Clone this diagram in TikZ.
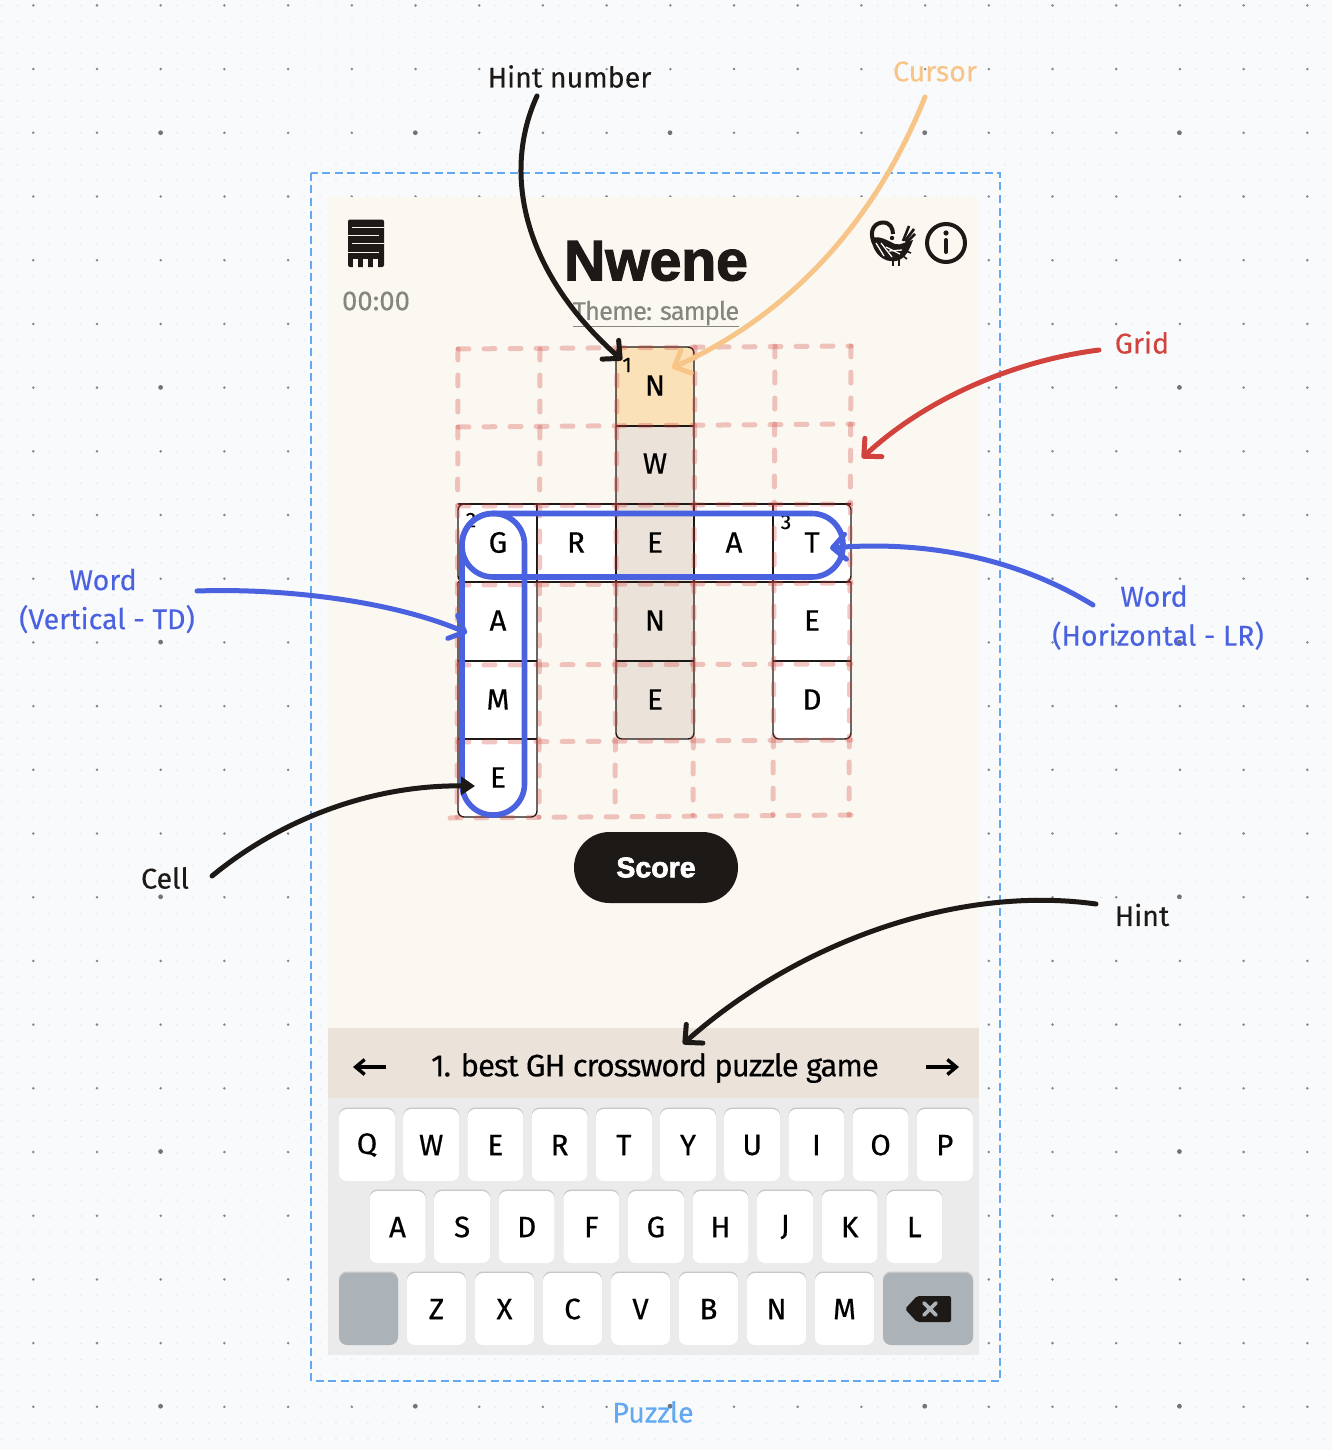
\documentclass[tikz,border=0pt]{standalone}
\usepackage{fontspec}
\usepackage{tikz}
\usetikzlibrary{arrows.meta}
\usetikzlibrary{shadows}
\setmainfont[FakeBold=0.15]{Fira Sans}
\newfontfamily\heavyfont[FakeBold=2.2]{Liberation Sans Bold}
\newfontfamily\midfont[FakeBold=0.5]{Fira Sans}
\newfontfamily\tightfont[FakeBold=0.35, LetterSpace=-3.2]{Fira Sans}
\newfontfamily\themefont[FakeBold=0.2, LetterSpace=-3.5]{Fira Sans}
\definecolor{pagebg}{HTML}{F9FAFC}
\definecolor{dotminor}{HTML}{E9EBEF}
\definecolor{dotmajor}{HTML}{85888E}
\definecolor{panelbg}{HTML}{FBF8F2}
\definecolor{framecol}{HTML}{62A8F2}
\definecolor{inkcol}{HTML}{1C1917}
\definecolor{greycol}{HTML}{86857F}
\definecolor{gridcol}{HTML}{D2433D}
\definecolor{cursorcol}{HTML}{F8C588}
\definecolor{wordcol}{HTML}{4A62E0}
\definecolor{cursorcell}{HTML}{FBE1B8}
\definecolor{tancol}{HTML}{EBE3DA}
\definecolor{keybg}{HTML}{EBEBEB}
\definecolor{keydark}{HTML}{ABB2B8}
\tikzset{x = 1pt, y = -1pt}
\tikzset{caption/.style = {font = \fontsize{28.6}{39}\selectfont, align = center, inner sep = 0}}
\tikzset{letter/.style = {font = \midfont\fontsize{29.5}{30}\selectfont, text = black, inner sep = 0}}
\tikzset{tiny/.style = {font = \fontsize{21}{22}\selectfont, text = black, inner sep = 0}}
\tikzset{cellline/.style = {draw = inkcol, line width = 1.4}}
\tikzset{gridline/.style = {draw = gridcol, opacity = 0.3, line width = 5, line cap = round, dash pattern = on 11 off 15}}
\tikzset{wordline/.style = {draw = wordcol, line width = 5.6, rounded corners = 31}}
\tikzset{barb/.style = {line width = 5, line cap = round, -{Straight Barb[length = 13, width = 25, round]}}}
\tikzset{keybox/.style = {fill = white, rounded corners = 8, minimum width = 56, minimum height = 72, inner sep = 0, font = \midfont\fontsize{29.5}{30}\selectfont, text = black, drop shadow = {shadow xshift = 0, shadow yshift = -1.5, fill = black!22, opacity = 1}}}
\tikzset{wide/.style = {keybox, minimum width = 59}}
\begin{document}
\begin{tikzpicture}
    \useasboundingbox (0, 0) rectangle (1332, 1450);
    \fill [pagebg] (0, 0) rectangle (1332, 1450);

    \foreach \i in {0, ..., 83} {
        \draw [dotminor, line width = 2, line cap = round, dash pattern = on 0 off 15.93] ({1.5 + 15.93 * \i}, 5.4) -- ({1.5 + 15.93 * \i}, 1450);
    }
    \foreach \i in {0, ..., 20} {
        \foreach \j in {0, ..., 22} {
            \fill [dotmajor] ({33.3 + 63.7 * \i}, {5.4 + 63.7 * \j}) circle (1.4);
        }
    }
    \foreach \i in {0, ..., 4} {
        \foreach \j in {0, ..., 5} {
            \fill [dotmajor!85!black] ({160.6 + 254.7 * \i}, {132.7 + 254.7 * \j}) circle (2.4);
        }
    }

    \fill [panelbg] (328, 197) rectangle (979, 1030);
    \draw [framecol, line width = 2.8, dash pattern = on 8 off 4.5] (311, 173) rectangle (1000, 1381);

    \fill [inkcol, rounded corners = 2] (348, 219.5) rectangle (384, 267);
    \fill [panelbg] (352, 226.5) rectangle (384, 227.8);
    \fill [panelbg] (348, 234.5) rectangle (379, 235.8);
    \fill [panelbg] (352, 243) rectangle (384, 244.3);
    \fill [panelbg] (348, 251.5) rectangle (379, 252.8);
    \fill [panelbg] (353, 258.5) rectangle (358, 268);
    \fill [panelbg] (363, 258.5) rectangle (368, 268);
    \fill [panelbg] (373, 258.5) rectangle (378, 268);

    \node [font = \fontsize{27.5}{30}\selectfont, text = greycol, inner sep = 0] (timer) at (376, 301) {00:00};
    \node [font = \heavyfont\fontsize{57}{60}\selectfont, text = inkcol, inner sep = 0] (title) at (656, 261) {Nwene};
    \node [font = \themefont\fontsize{25.5}{28}\selectfont, text = greycol, inner sep = 0] (theme) at (656, 314) {\underline{Theme: sample}};

    \draw [inkcol, line width = 4] (874, 243) .. controls (868, 229) and (876, 222.5) .. (883, 222.5) .. controls (890, 222.5) and (893, 228) .. (893, 234);
    \fill [inkcol] (892, 238) circle (2.2);
    \fill [inkcol] (871, 238) .. controls (873, 254) and (884, 263) .. (896, 261) .. controls (906, 259) and (910, 248) .. (913, 240) .. controls (906, 241) and (901, 246) .. (895, 244) .. controls (888, 241) and (880, 235) .. (871, 238);
    \draw [panelbg, line width = 1.3] (876, 243) -- (884, 256);
    \draw [panelbg, line width = 1.3] (881, 243) -- (892, 257);
    \draw [panelbg, line width = 1.3] (886, 247) -- (900, 254);
    \draw [panelbg, line width = 1.3] (889, 251) -- (902, 250);
    \draw [inkcol, line width = 2.6] (903, 241) -- (909, 226);
    \draw [inkcol, line width = 2.6] (905, 241) -- (914, 229);
    \draw [inkcol, line width = 2.6] (906, 243) -- (915, 234);
    \draw [inkcol, line width = 1.6] (906, 251) -- (911, 253);
    \draw [inkcol, line width = 1.6] (903, 256) -- (907, 259);
    \draw [inkcol, line width = 2.2] (893, 258) -- (893, 266);
    \draw [inkcol, line width = 2.2] (899, 258) -- (899, 266);

    \draw [inkcol, line width = 4] (946, 243) circle (19);
    \fill [inkcol] (946, 233) circle (2.6);
    \draw [inkcol, line width = 4, line cap = round] (946, 240) -- (946, 252);

    \draw [cellline, fill = white, rounded corners = 6] (458, 582) -- (458, 504) -- (851, 504) -- (851, 582) -- cycle;
    \draw [cellline, fill = white, rounded corners = 6] (458, 582) -- (458, 817) -- (537, 817) -- (537, 582);
    \draw [cellline, fill = white, rounded corners = 6] (773, 582) -- (773, 739) -- (851, 739) -- (851, 582);
    \draw [cellline, fill = tancol, rounded corners = 6] (616, 426) -- (616, 739) -- (694, 739) -- (694, 426);
    \draw [cellline, fill = cursorcell, rounded corners = 6] (616, 426) -- (616, 347) -- (694, 347) -- (694, 426);
    \draw [cellline] (616, 426) -- (694, 426);
    \draw [cellline] (458, 504) -- (851, 504);
    \draw [cellline] (458, 582) -- (851, 582);
    \draw [cellline] (616, 661) -- (694, 661);
    \draw [cellline] (773, 661) -- (851, 661);
    \draw [cellline] (458, 661) -- (537, 661);
    \draw [cellline] (458, 739) -- (537, 739);
    \draw [cellline] (537, 504) -- (537, 582);
    \draw [cellline] (616, 504) -- (616, 582);
    \draw [cellline] (694, 504) -- (694, 582);
    \draw [cellline] (773, 504) -- (773, 582);

    \node [letter] (cellN) at (655, 385.5) {N};
    \node [letter] (cellW) at (655, 463.5) {W};
    \node [letter] (cellG) at (498, 542.5) {G};
    \node [letter] (cellR) at (576, 542.5) {R};
    \node [letter] (cellE) at (655, 542.5) {E};
    \node [letter] (cellA) at (734, 542.5) {A};
    \node [letter] (cellT) at (812, 542.5) {T};
    \node [letter] (cellAb) at (498, 620.5) {A};
    \node [letter] (cellNb) at (655, 620.5) {N};
    \node [letter] (cellEb) at (812, 620.5) {E};
    \node [letter] (cellM) at (498, 699.5) {M};
    \node [letter] (cellEc) at (655, 699.5) {E};
    \node [letter] (cellD) at (812, 699.5) {D};
    \node [letter] (cellEd) at (498, 777.5) {E};
    \node [tiny] (numA) at (627, 365) {1};
    \node [tiny] (numB) at (471, 520) {2};
    \node [tiny] (numC) at (786, 522) {3};

    \draw [gridline] (458, 349) -- (851, 346);
    \draw [gridline] (458, 427) -- (853, 424);
    \draw [gridline] (458, 506) -- (851, 504);
    \draw [gridline] (458, 585) -- (851, 583);
    \draw [gridline] (458, 665) -- (851, 664);
    \draw [gridline] (458, 742) -- (851, 740);
    \draw [gridline] (450, 818) -- (851, 815);
    \draw [gridline] (458, 349) -- (457, 817);
    \draw [gridline] (540, 349) -- (539, 817);
    \draw [gridline] (617, 349) -- (615, 815);
    \draw [gridline] (695, 347) -- (693, 815);
    \draw [gridline] (775, 346) -- (773, 815);
    \draw [gridline] (851, 346) -- (849, 815);

    \draw [wordline] (462, 513.5) rectangle (843, 577);
    \draw [wordline] (462, 513.5) rectangle (524.5, 815);

    \node [fill = inkcol, text = white, rounded corners = 35.5, minimum width = 164, minimum height = 71, inner sep = 0, font = \heavyfont\fontsize{28.5}{30}\selectfont] (score) at (656, 867.5) {Score};

    \fill [tancol] (328, 1028) rectangle (979, 1098);
    \fill [keybg] (328, 1098) rectangle (979, 1355);
    \node [font = \tightfont\fontsize{31}{32}\selectfont, text = black, inner sep = 0] (hinttext) at (655, 1068) {1. best GH crossword puzzle game};
    \draw [line width = 3.4, -{Straight Barb[length = 9, width = 15]}] (386, 1067) -- (353, 1067);
    \draw [line width = 3.4, -{Straight Barb[length = 9, width = 15]}] (926, 1067) -- (959, 1067);

    \foreach \k [count = \i from 0] in {Q, W, E, R, T, Y, U, I, O, P} {
        \node [keybox] (key\k) at ({367 + 64.2 * \i}, 1145) {\k};
    }
    \foreach \k [count = \i from 0] in {A, S, D, F, G, H, J, K, L} {
        \node [keybox] (key\k) at ({397.5 + 64.6 * \i}, 1227) {\k};
    }
    \foreach \k [count = \i from 0] in {Z, X, C, V, B, N, M} {
        \node [wide] (key\k) at ({436.5 + 68 * \i}, 1309) {\k};
    }
    \node [wide, fill = keydark] (keyshift) at (368.5, 1309) {};
    \node [wide, fill = keydark, minimum width = 90] (keyback) at (928, 1309) {};
    \fill [inkcol, rounded corners = 2] (905, 1309) -- (917, 1296) -- (951, 1296) -- (951, 1322) -- (917, 1322) -- cycle;
    \draw [keydark, line width = 3.6, line cap = round] (924, 1303) -- (936, 1315);
    \draw [keydark, line width = 3.6, line cap = round] (936, 1303) -- (924, 1315);

    \node [caption, text = inkcol] (hintnumber) at (569.5, 76.5) {Hint number};
    \node [caption, text = cursorcol] (cursor) at (935, 71.5) {Cursor};
    \node [caption, text = gridcol] (grid) at (1142, 342.5) {Grid};
    \node [caption, text = wordcol] (wordtd) at (107, 601) {Word\kern 8pt\mbox{}\\(Vertical - TD)};
    \node [caption, text = wordcol] (wordlr) at (1158, 617.5) {Word\kern 8pt\mbox{}\\(Horizontal - LR)};
    \node [caption, text = inkcol] (cell) at (165, 878) {Cell};
    \node [caption, text = inkcol] (hint) at (1142, 915) {Hint};
    \node [caption, text = framecol] (puzzle) at (653, 1412) {Puzzle};

    \coordinate (hintnumberend) at (537, 96);
    \coordinate (cursorend) at (925, 97);
    \coordinate (gridend) at (1099, 350);
    \coordinate (wordtdend) at (197, 591);
    \coordinate (wordlrend) at (1093, 605);
    \coordinate (cellend) at (212, 876);
    \coordinate (hintend) at (1096, 904);

    \draw [barb, inkcol] (hintnumberend) .. controls (503, 170) and (520, 270) .. (622, 360);
    \draw [barb, cursorcol] (cursorend) .. controls (880, 210) and (800, 310) .. (672, 368);
    \draw [barb, gridcol] (gridend) .. controls (1020, 360) and (930, 395) .. (862, 458);
    \draw [barb, wordcol] (wordtdend) .. controls (280, 588) and (390, 600) .. (467, 633);
    \draw [barb, wordcol] (wordlrend) .. controls (1020, 560) and (930, 540) .. (830, 548);
    \draw [inkcol, line width = 5, line cap = round, -{Triangle[length = 14, width = 18]}] (cellend) .. controls (280, 820) and (370, 785) .. (475, 786);
    \draw [barb, inkcol] (hintend) .. controls (960, 885) and (800, 940) .. (683, 1044);
\end{tikzpicture}
\end{document}
